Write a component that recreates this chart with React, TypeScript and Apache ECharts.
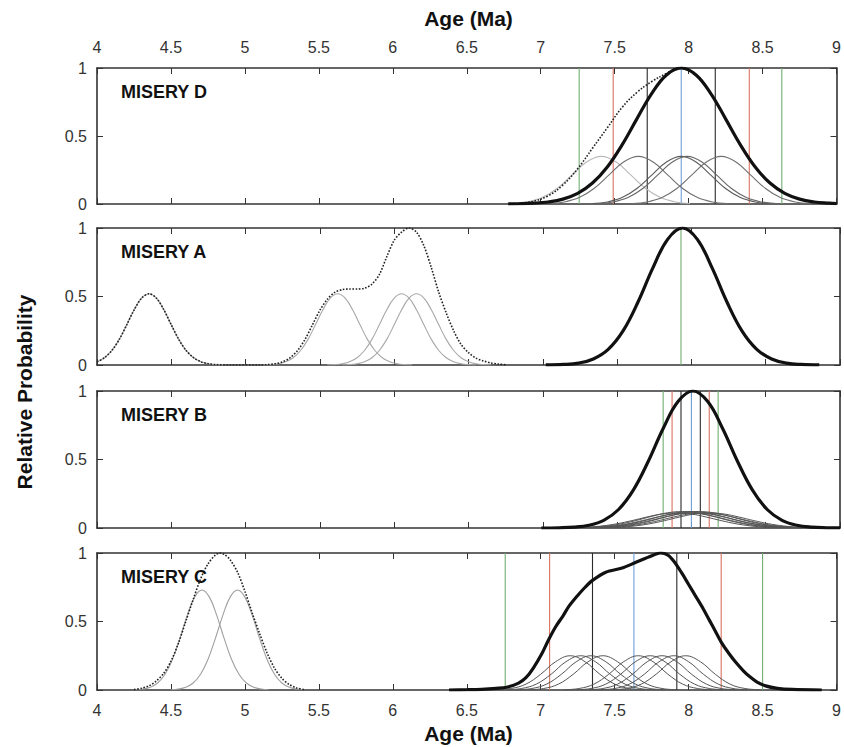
import React, { useEffect, useRef } from "react";
import * as echarts from "echarts";

type Pt = [number, number];

// ---------- axes ----------
const X_MIN = 4;
const X_MAX = 9;
const X_STEP = 0.5;
const Y_MIN = 0;
const Y_MAX = 1;
const Y_STEP = 0.5;
const PANEL_LABELS = ["MISERY D", "MISERY A", "MISERY B", "MISERY C"];
const X_TITLE = "Age (Ma)";
const Y_TITLE = "Relative Probability";

// vertical reference line colours (green, red, black, blue, black, red, green)
const V_COLORS = ["#72ad72", "#d9735f", "#2a2a2a", "#6f9fd8", "#2a2a2a", "#d9735f", "#72ad72"];

// ---------- Panel D ----------
const D_THICK: Pt[] = [[6.78,0.001],[6.85,0.002],[6.95,0.006],[7.05,0.015],[7.15,0.036],[7.25,0.078],[7.35,0.154],[7.45,0.272],[7.55,0.435],[7.65,0.626],[7.75,0.812],[7.85,0.949],[7.95,1],[8.05,0.949],[8.15,0.812],[8.25,0.626],[8.35,0.435],[8.45,0.272],[8.55,0.154],[8.65,0.078],[8.75,0.036],[8.85,0.015],[8.95,0.006],[9.0,0.003]];
const D_DOTTED: Pt[] = [[6.85,0.003],[6.95,0.02],[7.05,0.06],[7.15,0.14],[7.25,0.26],[7.35,0.41],[7.45,0.56],[7.55,0.71],[7.65,0.82],[7.75,0.9],[7.85,0.96],[7.93,1],[8.05,0.949],[8.15,0.812],[8.25,0.626],[8.35,0.435],[8.45,0.272],[8.55,0.154],[8.65,0.078],[8.75,0.036],[8.85,0.015],[8.95,0.006],[9.0,0.003]];
const D_THIN_1: Pt[] = [[6.81,0.004],[6.91,0.015],[7.01,0.047],[7.11,0.114],[7.21,0.212],[7.31,0.309],[7.41,0.35],[7.51,0.309],[7.61,0.212],[7.71,0.114],[7.81,0.047],[7.91,0.015],[8.01,0.004]];
const D_THIN_2: Pt[] = [[7.06,0.004],[7.16,0.015],[7.26,0.047],[7.36,0.114],[7.46,0.212],[7.56,0.309],[7.66,0.35],[7.76,0.309],[7.86,0.212],[7.96,0.114],[8.06,0.047],[8.16,0.015],[8.26,0.004]];
const D_THIN_3: Pt[] = [[7.35,0.004],[7.45,0.015],[7.55,0.047],[7.65,0.114],[7.75,0.212],[7.85,0.309],[7.95,0.35],[8.05,0.309],[8.15,0.212],[8.25,0.114],[8.35,0.047],[8.45,0.015],[8.55,0.004]];
const D_THIN_4: Pt[] = [[7.39,0.004],[7.49,0.015],[7.59,0.047],[7.69,0.114],[7.79,0.212],[7.89,0.309],[7.99,0.35],[8.09,0.309],[8.19,0.212],[8.29,0.114],[8.39,0.047],[8.49,0.015],[8.59,0.004]];
const D_THIN_5: Pt[] = [[7.62,0.004],[7.72,0.015],[7.82,0.047],[7.92,0.114],[8.02,0.212],[8.12,0.309],[8.22,0.35],[8.32,0.309],[8.42,0.212],[8.52,0.114],[8.62,0.047],[8.72,0.015],[8.82,0.004]];
const D_VERT = [7.26, 7.49, 7.72, 7.95, 8.18, 8.41, 8.63];

// ---------- Panel A ----------
const A_THICK: Pt[] = [[7.02,0.001],[7.14,0.004],[7.24,0.014],[7.34,0.044],[7.44,0.114],[7.54,0.249],[7.64,0.458],[7.74,0.707],[7.84,0.917],[7.94,1],[8.04,0.917],[8.14,0.707],[8.24,0.458],[8.34,0.249],[8.44,0.114],[8.54,0.044],[8.64,0.014],[8.74,0.004],[8.86,0.001]];
const A_DOTTED: Pt[] = [[4.0,0.023],[4.05,0.053],[4.1,0.106],[4.15,0.187],[4.2,0.293],[4.25,0.403],[4.3,0.488],[4.35,0.52],[4.4,0.488],[4.45,0.403],[4.5,0.293],[4.55,0.187],[4.6,0.106],[4.65,0.053],[4.7,0.023],[4.75,0.009],[4.8,0.003],[4.9,0],[5.1,0],[5.15,0.003],[5.2,0.009],[5.25,0.023],[5.3,0.053],[5.35,0.106],[5.4,0.187],[5.45,0.293],[5.5,0.4],[5.55,0.48],[5.6,0.53],[5.65,0.55],[5.7,0.555],[5.75,0.555],[5.8,0.56],[5.85,0.59],[5.9,0.66],[5.95,0.79],[6.0,0.91],[6.05,0.97],[6.1,1.0],[6.15,0.97],[6.2,0.87],[6.25,0.71],[6.3,0.53],[6.35,0.38],[6.4,0.25],[6.45,0.15],[6.5,0.09],[6.55,0.05],[6.6,0.03],[6.65,0.015],[6.7,0.007],[6.75,0.002]];
const A_THIN_1: Pt[] = [[4.0,0.023],[4.05,0.053],[4.1,0.106],[4.15,0.187],[4.2,0.293],[4.25,0.403],[4.3,0.488],[4.35,0.52],[4.4,0.488],[4.45,0.403],[4.5,0.293],[4.55,0.187],[4.6,0.106],[4.65,0.053],[4.7,0.023],[4.75,0.009],[4.8,0.003],[4.85,0.001]];
const A_THIN_2: Pt[] = [[5.12,0.001],[5.17,0.003],[5.22,0.009],[5.27,0.023],[5.32,0.053],[5.37,0.106],[5.42,0.187],[5.47,0.293],[5.52,0.403],[5.57,0.488],[5.62,0.52],[5.67,0.488],[5.72,0.403],[5.77,0.293],[5.82,0.187],[5.87,0.106],[5.92,0.053],[5.97,0.023],[6.02,0.009],[6.07,0.003],[6.12,0.001]];
const A_THIN_3: Pt[] = [[5.55,0.001],[5.6,0.003],[5.65,0.009],[5.7,0.023],[5.75,0.053],[5.8,0.106],[5.85,0.187],[5.9,0.293],[5.95,0.403],[6.0,0.488],[6.05,0.52],[6.1,0.488],[6.15,0.403],[6.2,0.293],[6.25,0.187],[6.3,0.106],[6.35,0.053],[6.4,0.023],[6.45,0.009],[6.5,0.003],[6.55,0.001]];
const A_THIN_4: Pt[] = [[5.65,0.001],[5.7,0.003],[5.75,0.009],[5.8,0.023],[5.85,0.053],[5.9,0.106],[5.95,0.187],[6.0,0.293],[6.05,0.403],[6.1,0.488],[6.15,0.52],[6.2,0.488],[6.25,0.403],[6.3,0.293],[6.35,0.187],[6.4,0.106],[6.45,0.053],[6.5,0.023],[6.55,0.009],[6.6,0.003],[6.65,0.001]];
const A_VERT = [7.93];
const A_VERT_COLORS = ["#72ad72"];

// ---------- Panel B ----------
const B_THICK: Pt[] = [[6.99,0],[7.11,0.0015],[7.21,0.006],[7.31,0.02],[7.41,0.056],[7.51,0.135],[7.61,0.278],[7.71,0.487],[7.81,0.726],[7.91,0.923],[8.01,1],[8.11,0.923],[8.21,0.726],[8.31,0.487],[8.41,0.278],[8.51,0.135],[8.61,0.056],[8.71,0.02],[8.81,0.006],[8.91,0.0015],[9.0,0.0003]];
const B_THIN_1: Pt[] = [[7.2,0.002],[7.3,0.006],[7.4,0.015],[7.5,0.031],[7.6,0.054],[7.7,0.08],[7.8,0.102],[7.9,0.11],[8.0,0.102],[8.1,0.08],[8.2,0.054],[8.3,0.031],[8.4,0.015],[8.5,0.006],[8.6,0.002]];
const B_THIN_2: Pt[] = [[7.24,0.002],[7.34,0.007],[7.44,0.016],[7.54,0.033],[7.64,0.058],[7.74,0.087],[7.84,0.111],[7.94,0.12],[8.04,0.111],[8.14,0.087],[8.24,0.058],[8.34,0.033],[8.44,0.016],[8.54,0.007],[8.64,0.002]];
const B_THIN_3: Pt[] = [[7.27,0.002],[7.37,0.006],[7.47,0.015],[7.57,0.031],[7.67,0.054],[7.77,0.08],[7.87,0.102],[7.97,0.11],[8.07,0.102],[8.17,0.08],[8.27,0.054],[8.37,0.031],[8.47,0.015],[8.57,0.006],[8.67,0.002]];
const B_THIN_4: Pt[] = [[7.3,0.002],[7.4,0.007],[7.5,0.016],[7.6,0.033],[7.7,0.058],[7.8,0.087],[7.9,0.111],[8.0,0.12],[8.1,0.111],[8.2,0.087],[8.3,0.058],[8.4,0.033],[8.5,0.016],[8.6,0.007],[8.7,0.002]];
const B_THIN_5: Pt[] = [[7.32,0.002],[7.42,0.006],[7.52,0.015],[7.62,0.031],[7.72,0.054],[7.82,0.08],[7.92,0.102],[8.02,0.11],[8.12,0.102],[8.22,0.08],[8.32,0.054],[8.42,0.031],[8.52,0.015],[8.62,0.006],[8.72,0.002]];
const B_THIN_6: Pt[] = [[7.35,0.002],[7.45,0.007],[7.55,0.016],[7.65,0.033],[7.75,0.058],[7.85,0.087],[7.95,0.111],[8.05,0.12],[8.15,0.111],[8.25,0.087],[8.35,0.058],[8.45,0.033],[8.55,0.016],[8.65,0.007],[8.75,0.002]];
const B_THIN_7: Pt[] = [[7.38,0.002],[7.48,0.006],[7.58,0.015],[7.68,0.031],[7.78,0.054],[7.88,0.08],[7.98,0.102],[8.08,0.11],[8.18,0.102],[8.28,0.08],[8.38,0.054],[8.48,0.031],[8.58,0.015],[8.68,0.006],[8.78,0.002]];
const B_THIN_8: Pt[] = [[7.42,0.002],[7.52,0.006],[7.62,0.015],[7.72,0.031],[7.82,0.054],[7.92,0.08],[8.02,0.102],[8.12,0.11],[8.22,0.102],[8.32,0.08],[8.42,0.054],[8.52,0.031],[8.62,0.015],[8.72,0.006],[8.82,0.002]];
const B_VERT = [7.81, 7.87, 7.93, 8.0, 8.06, 8.12, 8.18];

// ---------- Panel C ----------
const C_THICK: Pt[] = [[6.38,0],[6.5,0.002],[6.6,0.005],[6.7,0.012],[6.77,0.02],[6.85,0.05],[6.9,0.09],[6.95,0.16],[7.01,0.27],[7.05,0.36],[7.1,0.46],[7.15,0.54],[7.19,0.61],[7.25,0.69],[7.3,0.75],[7.35,0.8],[7.44,0.86],[7.55,0.89],[7.64,0.93],[7.73,0.97],[7.81,1.0],[7.86,0.985],[7.9,0.94],[7.95,0.86],[8.0,0.77],[8.05,0.68],[8.1,0.59],[8.14,0.51],[8.18,0.43],[8.22,0.35],[8.27,0.27],[8.32,0.2],[8.37,0.14],[8.41,0.1],[8.46,0.06],[8.52,0.03],[8.6,0.012],[8.7,0.004],[8.9,0]];
const C_DOTTED: Pt[] = [[4.25,0.003],[4.3,0.012],[4.35,0.03],[4.4,0.065],[4.45,0.12],[4.5,0.21],[4.55,0.34],[4.6,0.5],[4.65,0.66],[4.7,0.81],[4.75,0.92],[4.8,0.985],[4.83,1.0],[4.86,0.99],[4.9,0.95],[4.95,0.86],[5.0,0.72],[5.05,0.56],[5.1,0.41],[5.15,0.27],[5.2,0.16],[5.25,0.085],[5.3,0.04],[5.35,0.015],[5.4,0.004]];
const C_LEFT_1: Pt[] = [[4.26,0.002],[4.31,0.007],[4.36,0.02],[4.41,0.051],[4.46,0.115],[4.51,0.223],[4.56,0.375],[4.61,0.543],[4.66,0.678],[4.71,0.73],[4.76,0.678],[4.81,0.543],[4.86,0.375],[4.91,0.223],[4.96,0.115],[5.01,0.051],[5.06,0.02],[5.11,0.007],[5.16,0.002]];
const C_LEFT_2: Pt[] = [[4.5,0.002],[4.55,0.007],[4.6,0.02],[4.65,0.051],[4.7,0.115],[4.75,0.223],[4.8,0.375],[4.85,0.543],[4.9,0.678],[4.95,0.73],[5.0,0.678],[5.05,0.543],[5.1,0.375],[5.15,0.223],[5.2,0.115],[5.25,0.051],[5.3,0.02],[5.35,0.007],[5.4,0.002]];
const C_THIN_1: Pt[] = [[6.7,0.002],[6.8,0.011],[6.9,0.043],[7.0,0.115],[7.1,0.206],[7.2,0.25],[7.3,0.206],[7.4,0.115],[7.5,0.043],[7.6,0.011],[7.7,0.002]];
const C_THIN_2: Pt[] = [[6.77,0.002],[6.87,0.011],[6.97,0.043],[7.07,0.115],[7.17,0.206],[7.27,0.25],[7.37,0.206],[7.47,0.115],[7.57,0.043],[7.67,0.011],[7.77,0.002]];
const C_THIN_3: Pt[] = [[6.84,0.002],[6.94,0.011],[7.04,0.043],[7.14,0.115],[7.24,0.206],[7.34,0.25],[7.44,0.206],[7.54,0.115],[7.64,0.043],[7.74,0.011],[7.84,0.002]];
const C_THIN_4: Pt[] = [[6.92,0.002],[7.02,0.011],[7.12,0.043],[7.22,0.115],[7.32,0.206],[7.42,0.25],[7.52,0.206],[7.62,0.115],[7.72,0.043],[7.82,0.011],[7.92,0.002]];
const C_THIN_5: Pt[] = [[7.16,0.002],[7.26,0.011],[7.36,0.043],[7.46,0.115],[7.56,0.206],[7.66,0.25],[7.76,0.206],[7.86,0.115],[7.96,0.043],[8.06,0.011],[8.16,0.002]];
const C_THIN_6: Pt[] = [[7.24,0.002],[7.34,0.011],[7.44,0.043],[7.54,0.115],[7.64,0.206],[7.74,0.25],[7.84,0.206],[7.94,0.115],[8.04,0.043],[8.14,0.011],[8.24,0.002]];
const C_THIN_7: Pt[] = [[7.32,0.002],[7.42,0.011],[7.52,0.043],[7.62,0.115],[7.72,0.206],[7.82,0.25],[7.92,0.206],[8.02,0.115],[8.12,0.043],[8.22,0.011],[8.32,0.002]];
const C_THIN_8: Pt[] = [[7.4,0.002],[7.5,0.011],[7.6,0.043],[7.7,0.115],[7.8,0.206],[7.9,0.25],[8.0,0.206],[8.1,0.115],[8.2,0.043],[8.3,0.011],[8.4,0.002]];
const C_THIN_9: Pt[] = [[7.48,0.002],[7.58,0.011],[7.68,0.043],[7.78,0.115],[7.88,0.206],[7.98,0.25],[8.08,0.206],[8.18,0.115],[8.28,0.043],[8.38,0.011],[8.48,0.002]];
const C_VERT = [6.76, 7.06, 7.35, 7.63, 7.92, 8.22, 8.5];

// ---------- layout ----------
const GRID_LEFT = 97;
const GRID_WIDTH = 743;
const GRID_TOPS = [68, 228, 391, 553];
const GRID_HEIGHTS = [136, 137, 137, 137];
const FONT = '"Liberation Sans", Arial, Helvetica, sans-serif';

function curve(data: Pt[], g: number, color: string, width: number, type: any = "solid", z = 2, smooth: any = 0.4) {
  return {
    type: "line",
    xAxisIndex: g * 2,
    yAxisIndex: g * 2,
    data,
    showSymbol: false,
    symbol: "none",
    smooth,
    z,
    silent: true,
    lineStyle: { color, width, type },
  };
}

function verticals(xs: number[], colors: string[], g: number) {
  return xs.map((x, i) =>
    curve([[x, Y_MIN], [x, Y_MAX]], g, colors[i], 1.1, "solid", 1, false)
  );
}

export default function App() {
  const ref = useRef<HTMLDivElement>(null);
  useEffect(() => {
    if (!ref.current) return;
    const chart = echarts.init(ref.current, null, { renderer: "svg" });
    const axisLineStyle = { color: "#333", width: 1.6 };
    const labelStyle = { fontSize: 16, color: "#333", fontFamily: FONT };
    const grids: any[] = [];
    const xAxes: any[] = [];
    const yAxes: any[] = [];
    for (let g = 0; g < 4; g++) {
      grids.push({ left: GRID_LEFT, width: GRID_WIDTH, top: GRID_TOPS[g], height: GRID_HEIGHTS[g], containLabel: false });
      for (const pos of ["bottom", "top"]) {
        xAxes.push({
          type: "value",
          gridIndex: g,
          position: pos,
          min: X_MIN,
          max: X_MAX,
          interval: X_STEP,
          axisLine: { show: true, onZero: false, lineStyle: axisLineStyle },
          axisTick: { show: true, inside: true, length: 6, lineStyle: { color: "#333", width: 1 } },
          axisLabel: {
            show: (pos === "top" && g === 0) || (pos === "bottom" && g === 3),
            margin: pos === "top" ? 13 : 12,
            ...labelStyle,
          },
          splitLine: { show: false },
        });
      }
      for (const pos of ["left", "right"]) {
        yAxes.push({
          type: "value",
          gridIndex: g,
          position: pos,
          min: Y_MIN,
          max: Y_MAX,
          interval: Y_STEP,
          axisLine: { show: true, onZero: false, lineStyle: axisLineStyle },
          axisTick: { show: true, inside: true, length: 6, lineStyle: { color: "#333", width: 1 } },
          axisLabel: { show: pos === "left", margin: 10, ...labelStyle },
          splitLine: { show: false },
        });
      }
    }

    const series: any[] = [
      // Panel D
      ...verticals(D_VERT, V_COLORS, 0),
      curve(D_THIN_1, 0, "#b8b8b8", 1.1),
      curve(D_THIN_2, 0, "#707070", 1.1),
      curve(D_THIN_3, 0, "#5a5a5a", 1.1),
      curve(D_THIN_4, 0, "#666", 1.1),
      curve(D_THIN_5, 0, "#707070", 1.1),
      curve(D_DOTTED, 0, "#222", 1.6, "dotted", 3),
      curve(D_THICK, 0, "#111", 3.2, "solid", 4),
      // Panel A
      ...verticals(A_VERT, A_VERT_COLORS, 1),
      curve(A_THIN_1, 1, "#a8a8a8", 1.1),
      curve(A_THIN_2, 1, "#a8a8a8", 1.1),
      curve(A_THIN_3, 1, "#a8a8a8", 1.1),
      curve(A_THIN_4, 1, "#a8a8a8", 1.1),
      curve(A_DOTTED, 1, "#222", 1.6, "dotted", 3, 0.3),
      curve(A_THICK, 1, "#111", 3.2, "solid", 4),
      // Panel B
      ...verticals(B_VERT, V_COLORS, 2),
      curve(B_THIN_1, 2, "#555", 1),
      curve(B_THIN_2, 2, "#555", 1),
      curve(B_THIN_3, 2, "#555", 1),
      curve(B_THIN_4, 2, "#555", 1),
      curve(B_THIN_5, 2, "#555", 1),
      curve(B_THIN_6, 2, "#555", 1),
      curve(B_THIN_7, 2, "#555", 1),
      curve(B_THIN_8, 2, "#555", 1),
      curve(B_THICK, 2, "#111", 3.2, "solid", 4),
      // Panel C
      ...verticals(C_VERT, V_COLORS, 3),
      curve(C_LEFT_1, 3, "#a0a0a0", 1.1),
      curve(C_LEFT_2, 3, "#a0a0a0", 1.1),
      curve(C_THIN_1, 3, "#555", 1),
      curve(C_THIN_2, 3, "#555", 1),
      curve(C_THIN_3, 3, "#555", 1),
      curve(C_THIN_4, 3, "#555", 1),
      curve(C_THIN_5, 3, "#555", 1),
      curve(C_THIN_6, 3, "#555", 1),
      curve(C_THIN_7, 3, "#555", 1),
      curve(C_THIN_8, 3, "#555", 1),
      curve(C_THIN_9, 3, "#555", 1),
      curve(C_DOTTED, 3, "#222", 1.6, "dotted", 3, 0.3),
      curve(C_THICK, 3, "#111", 3.2, "solid", 4, 0.3),
    ];

    const titleFont = `bold 21px ${FONT}`;
    const panelFont = `bold 18px ${FONT}`;
    const graphic: any[] = [
      {
        type: "text",
        x: GRID_LEFT + GRID_WIDTH / 2,
        y: 18,
        style: { text: X_TITLE, font: titleFont, fill: "#111", textAlign: "center", textVerticalAlign: "middle", align: "center", verticalAlign: "middle" },
      },
      {
        type: "text",
        x: GRID_LEFT + GRID_WIDTH / 2,
        y: 733,
        style: { text: X_TITLE, font: titleFont, fill: "#111", textAlign: "center", textVerticalAlign: "middle", align: "center", verticalAlign: "middle" },
      },
      {
        type: "text",
        x: 24,
        y: 392,
        rotation: Math.PI / 2,
        style: { text: Y_TITLE, font: titleFont, fill: "#111", textAlign: "center", textVerticalAlign: "middle", align: "center", verticalAlign: "middle" },
      },
      ...PANEL_LABELS.map((t, i) => ({
        type: "text",
        x: 121,
        y: GRID_TOPS[i] + 24,
        z: 10,
        style: { text: t, font: panelFont, fill: "#111", textAlign: "left", textVerticalAlign: "middle", align: "left", verticalAlign: "middle" },
      })),
    ];

    chart.setOption({
      animation: false,
      backgroundColor: "#fff",
      grid: grids,
      xAxis: xAxes,
      yAxis: yAxes,
      series,
      graphic,
    });
    return () => chart.dispose();
  }, []);
  return <div ref={ref} style={{ position: "absolute", left: 0, top: 0, width: 844, height: 747 }} />;
}
